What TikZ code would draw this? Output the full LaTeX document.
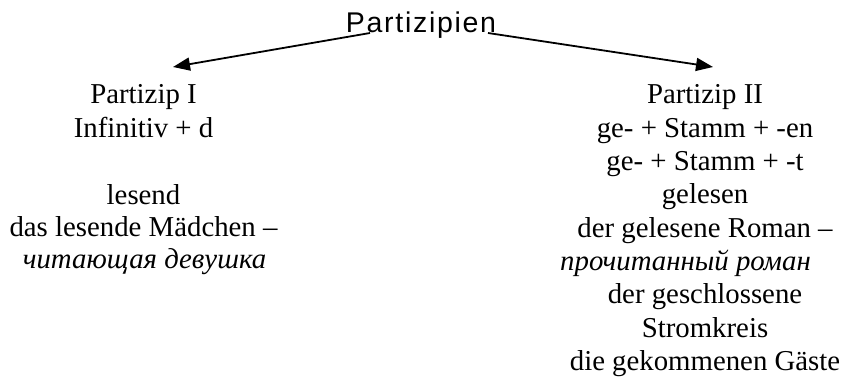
\documentclass[tikz,border=0pt]{standalone}
\usepackage{fontspec}
\setmainfont{Liberation Serif}
\newfontfamily\titlefont[LetterSpace=6]{Liberation Sans}
\usetikzlibrary{arrows.meta}
\begin{document}
\begin{tikzpicture}[x=1pt,y=-1pt,
  txt/.style={anchor=base, inner sep=0pt, font=\fontsize{28.8}{33.3}\selectfont},
  itx/.style={txt, font=\fontsize{28.8}{33.3}\selectfont\itshape},
  ttl/.style={anchor=base, inner sep=0pt, font=\titlefont\fontsize{28.5}{34}\selectfont},
  arr/.style={line width=1.8pt, -{Triangle[length=17pt,width=13pt]}}]
\useasboundingbox (0,0) rectangle (845,377);
\node[ttl] (title) at (421,33) {Partizipien};
% left column
\node[txt] (p1) at (143.5,104) {Partizip I};
\node[txt] (l2) at (143.5,137) {Infinitiv + d};
\node[txt] (l3) at (143.5,204) {lesend};
\node[txt] (l4) at (143.5,236) {das lesende Mädchen –};
\node[itx] (l5) at (144.5,268) {читающая девушка};
% right column
\node[txt] (p2) at (705,104) {Partizip II};
\node[txt] (r2) at (705,137) {ge- + Stamm + -en};
\node[txt] (r3) at (705,170) {ge- + Stamm + -t};
\node[txt] (r4) at (705,203) {gelesen};
\node[txt] (r5) at (705,237) {der gelesene Roman –};
\node[itx] (r6) at (685.5,270) {прочитанный роман};
\node[txt] (r7) at (705,303) {der geschlossene};
\node[txt] (r8) at (705,337) {Stromkreis};
\node[txt] (r9) at (705,370) {die gekommenen Gäste};
% arrows
\coordinate (sL) at (370,33);
\coordinate (tL) at (173,67);
\coordinate (sR) at (488,33);
\coordinate (tR) at (713,67);
\draw[arr] (sL) -- (tL);
\draw[arr] (sR) -- (tR);
\end{tikzpicture}
\end{document}
